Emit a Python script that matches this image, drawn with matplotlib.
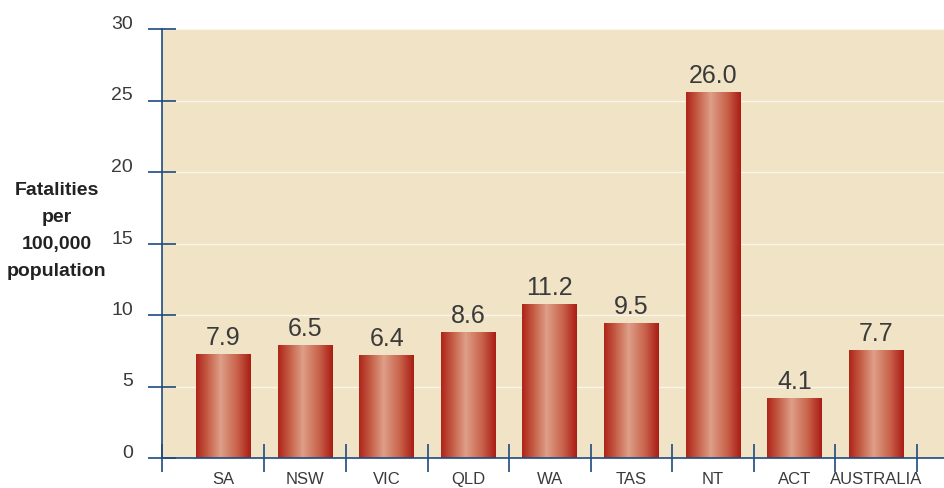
import numpy as np
import matplotlib.pyplot as plt
from matplotlib.colors import LinearSegmentedColormap

# bar heights as drawn in the picture, and the value labels printed above them
regions = ['SA', 'NSW', 'VIC', 'QLD', 'WA', 'TAS', 'NT', 'ACT', 'AUSTRALIA']
heights = [7.3, 7.9, 7.2, 8.8, 10.8, 9.45, 25.6, 4.2, 7.55]
labels = ['7.9', '6.5', '6.4', '8.6', '11.2', '9.5', '26.0', '4.1', '7.7']
yticks = [0, 5, 10, 15, 20, 25, 30]

bg = '#f0e3c6'
navy = '#1d4a7e'
txt = '#3a3a3a'
font = ['Liberation Sans', 'DejaVu Sans']

bar_cmap = LinearSegmentedColormap.from_list(
    'bar', [(0.0, '#ae2419'), (0.2, '#c45a43'), (0.45, '#de9f88'),
            (0.75, '#c9624a'), (1.0, '#a91c14')])

fig = plt.figure(figsize=(9.44, 4.88), dpi=100)
ax = fig.add_axes([162/944, 1 - 458/488, 782/944, 429/488])
ax.set_facecolor(bg)

x = np.arange(len(regions))
bars = ax.bar(x, heights, width=0.674, color='none', edgecolor='none', zorder=3)

grad = np.linspace(0, 1, 256).reshape(1, -1)
for b in bars:
    x0, y0 = b.get_x(), b.get_y()
    w, h = b.get_width(), b.get_height()
    im = ax.imshow(grad, cmap=bar_cmap, aspect='auto',
                   extent=(x0, x0 + w, y0, y0 + h), zorder=3)
    im.set_clip_path(b)

for xi, h, lab in zip(x, heights, labels):
    ax.annotate(lab, (xi, h), xytext=(0, 6.5), textcoords='offset points',
                ha='center', va='baseline', fontsize=18, color=txt,
                family=font, zorder=4)

xmin = -0.754
ax.set_xlim(xmin, 8.83)
ax.set_ylim(0, 30)

ax.set_yticks(yticks)
ax.set_yticklabels([str(t) for t in yticks], family=font, fontsize=14,
                   color=txt)
for t in ax.get_yticklabels():
    t.set_va('baseline')
ax.tick_params(axis='y', direction='inout', length=20, width=1.2,
               color=navy, pad=11)

ax.set_xticks(x)
ax.set_xticklabels(regions, family=font, fontsize=12, color=txt)
ax.tick_params(axis='x', which='major', length=0, pad=10)
ax.set_xticks([xmin] + list(np.arange(0.5, 9, 1.0)), minor=True)
ax.tick_params(axis='x', which='minor', direction='inout', length=20,
               width=1.2, color=navy)

ax.grid(axis='y', color='#fbf4e8', linewidth=1, zorder=1)
ax.set_axisbelow(True)

for s in ['top', 'right']:
    ax.spines[s].set_visible(False)
for s in ['left', 'bottom']:
    ax.spines[s].set_color(navy)
    ax.spines[s].set_linewidth(1.2)
    ax.spines[s].set_zorder(5)

fig.text(57/944, 1 - 231/488, 'Fatalities\nper\n100,000\npopulation',
         ha='center', va='center', multialignment='center', fontsize=14,
         weight='bold', color='#222222', family=font, linespacing=1.75)

fig.savefig('out.png', dpi=100)
